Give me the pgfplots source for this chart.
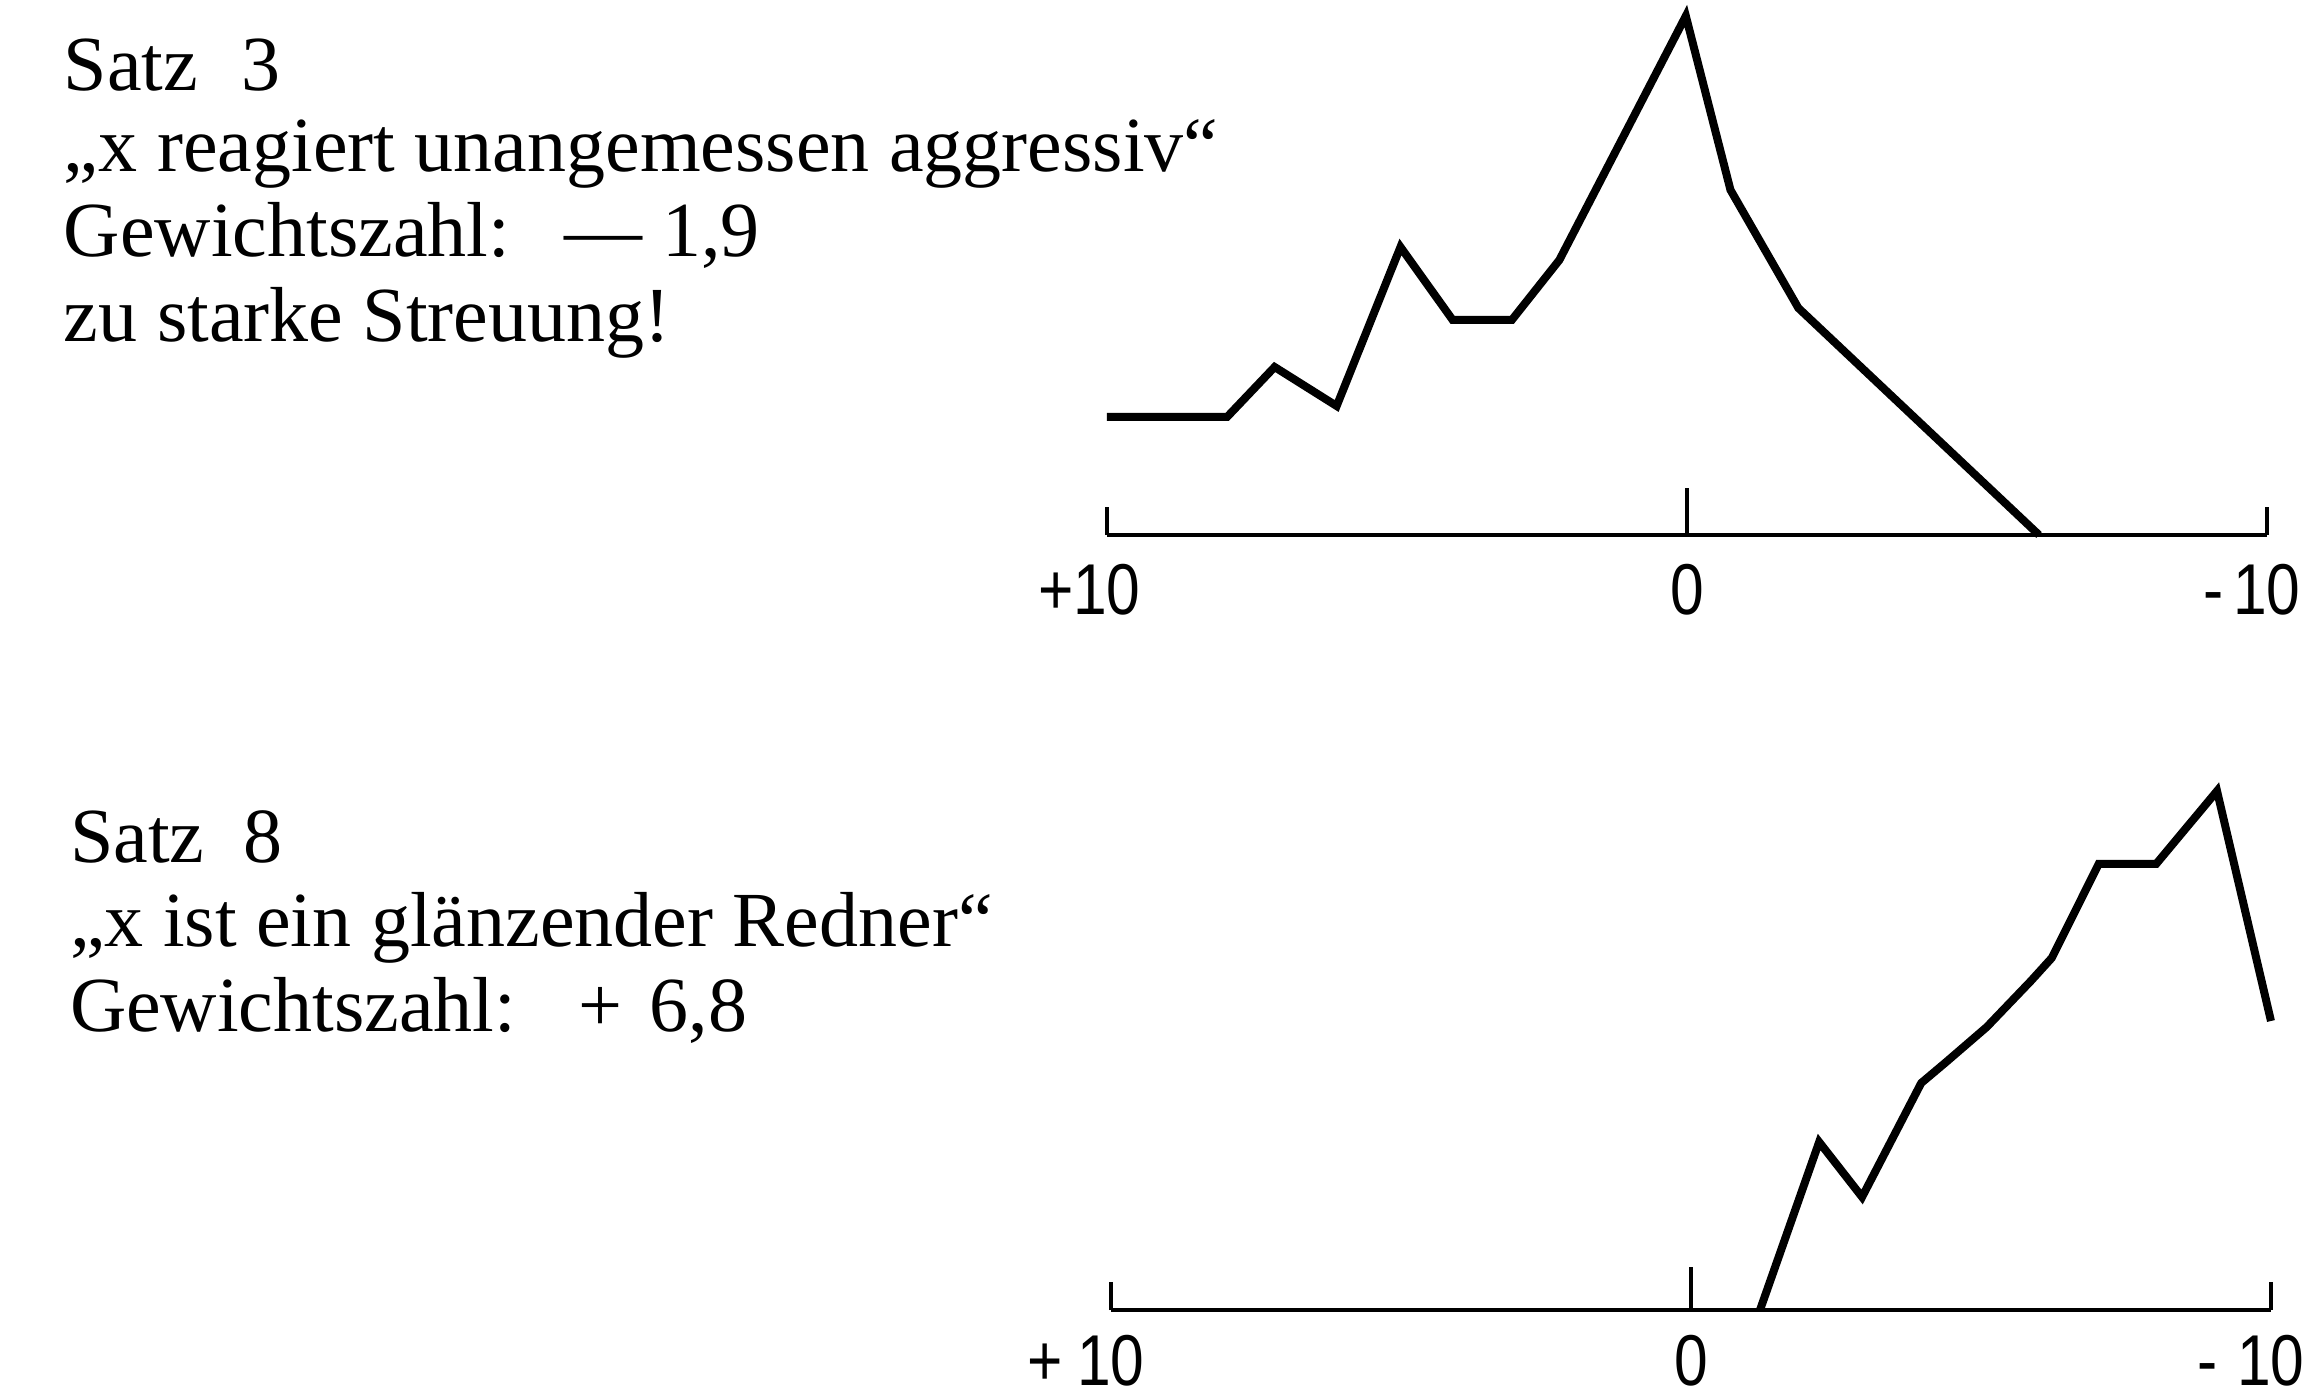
\documentclass[border=0pt]{standalone}
\usepackage{fontspec}
\setmainfont{Liberation Serif}
\newfontfamily\skalenfont[FakeStretch=0.84]{Liberation Sans}
\usepackage{pgfplots}
\usepackage{pgfplotstable}
\pgfplotsset{compat=1.18}

% Verteilung der Einstufungen, Satz 3 (Skala +10 ... -10)
\pgfplotstableread{
x      y
10.00  11.8
7.93   11.8
7.11   16.8
6.04   12.9
4.94   28.8
4.04   21.5
3.02   21.5
2.20   27.5
0.02   51.9
-0.75  34.5
-1.92  22.7
-6.07  0.0
}\satzdrei

% Verteilung der Einstufungen, Satz 8
\pgfplotstableread{
x      y
-1.19  0.0
-2.21  16.8
-2.95  11.3
-3.97  22.7
-4.40  24.8
-5.10  28.3
-5.86  32.9
-6.22  35.2
-7.03  44.6
-8.02  44.6
-9.07  51.9
-10.00 28.9
}\satzacht

\pgfplotsset{
  profil/.style={
    anchor=south west, scale only axis,
    width=116pt, height=52pt,
    xmin=-10, xmax=10, x dir=reverse, ymin=0, ymax=52,
    axis x line=bottom, axis y line=none,
    x axis line style={-, line width=0.45pt},
    xtick={10,0,-10},
    tick align=inside, major tick length=2.8pt,
    major tick style={line width=0.4pt, black},
    xticklabel style={font=\skalenfont\fontsize{7.2}{7.2}\selectfont,
      anchor=base, inner sep=0pt},
    clip=false,
  },
  kurve/.style={line width=0.8pt, black, line join=miter},
  mittelstrich/.style={line width=0.4pt, black},
}

\newcommand{\txt}{\fontsize{7.8}{8.4}\selectfont}

\begin{document}
\begin{tikzpicture}
\useasboundingbox (0,0) rectangle (230.4pt,-139.4pt);

% Beschriftung Satz 3
\begin{scope}[every node/.style={anchor=base west, inner sep=0pt, font=\txt}]
\node at (6.2pt,-9.0pt)  {Satz\hspace{0.55em}3};
\node at (6.2pt,-17.1pt) {„x reagiert unangemessen aggressiv“};
\node at (6.2pt,-25.6pt) {Gewichtszahl:\hspace{0.7em}—\hspace{0.25em}1,9};
\node at (6.2pt,-34.1pt) {zu starke Streuung!};

% Beschriftung Satz 8
\node at (6.8pt,-86.2pt)  {Satz\hspace{0.5em}8};
\node at (6.8pt,-94.6pt)  {„x ist ein glänzender Redner“};
\node at (6.8pt,-103.1pt) {Gewichtszahl:\hspace{0.8em}+\hspace{0.35em}6,8};
\end{scope}

% Profil Satz 3
\begin{axis}[profil, at={(110.7pt,-53.5pt)},
  xticklabel style={yshift=-7.9pt},
  xticklabels={\llap{+}10, 0, \llap{-\kern1pt}10}]
  \addplot[mittelstrich] coordinates {(0,0) (0,4.7)};
  \addplot[kurve] table {\satzdrei};
\end{axis}

% Profil Satz 8
\begin{axis}[profil, at={(111.1pt,-131.0pt)},
  xticklabel style={yshift=-7.5pt},
  xticklabels={\llap{+\kern1.5pt}10, 0, \llap{-\kern2pt}10}]
  \addplot[mittelstrich] coordinates {(0,0) (0,4.3)};
  \addplot[kurve] table {\satzacht};
\end{axis}
\end{tikzpicture}
\end{document}
